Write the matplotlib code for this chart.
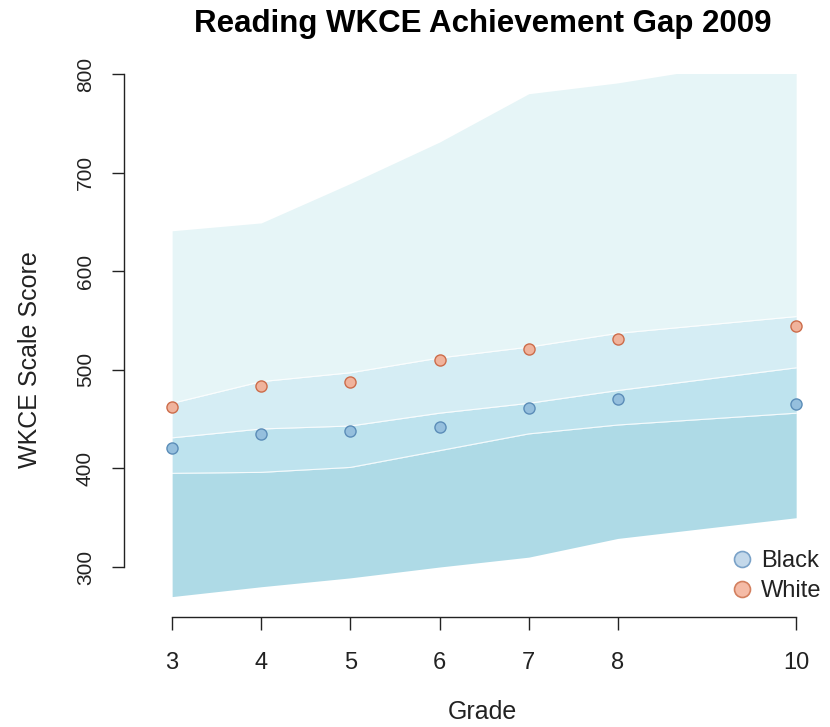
import matplotlib
matplotlib.use("Agg")
import matplotlib.pyplot as plt
from matplotlib.lines import Line2D
import numpy as np

# ---- data ----
grades = [3, 4, 5, 6, 7, 8, 10]
lowest = [270, 280, 289, 300, 310, 329, 350]          # bottom of scale
basic_cut = [395, 396, 401, 418, 435, 444, 456]       # minimal / basic
prof_cut = [431, 440, 443, 456, 466, 479, 502]        # basic / proficient
adv_cut = [466, 488, 497, 512, 523, 537, 554]         # proficient / advanced
highest = [641, 649, 689, 731, 780, 791, 820]         # top of scale
black = [421, 435, 438, 442, 461, 470, 465]
white = [462, 484, 488, 510, 521, 531, 544]
series_labels = ["Black", "White"]
ytick_vals = [300, 400, 500, 600, 700, 800]

plt.rcParams['font.family'] = ['Liberation Sans', 'DejaVu Sans']

W, H = 830, 727
fig = plt.figure(figsize=(W / 100, H / 100), dpi=100)
ax = fig.add_axes([124 / W, 1 - 617 / H, (814 - 124) / W, (617 - 74) / H])

band_colors = ['#AEDAE6', '#BEE3EE', '#D5EDF4', '#E6F5F7']
bounds = [lowest, basic_cut, prof_cut, adv_cut, highest]
for i in range(4):
    ax.fill_between(grades, bounds[i], bounds[i + 1], color=band_colors[i],
                    linewidth=0, zorder=1)
for b in [basic_cut, prof_cut, adv_cut]:
    ax.plot(grades, b, color='white', lw=0.8, alpha=0.85, zorder=2)

ax.plot(grades, black, 'o', ls='none', ms=8, mfc='#95BFDD', mec='#5B8DB8',
        mew=1.0, zorder=3)
ax.plot(grades, white, 'o', ls='none', ms=8, mfc='#F0B39C', mec='#CC6C4A',
        mew=1.0, zorder=3)

ax.set_xlim(2.46, 10.2)
ax.set_ylim(249.3, 800)

for s in ['top', 'right']:
    ax.spines[s].set_visible(False)
ax.spines['left'].set_bounds(300, 800)
ax.spines['bottom'].set_bounds(3, 10)
for s in ['left', 'bottom']:
    ax.spines[s].set_color('#222222')
    ax.spines[s].set_linewidth(1.0)

ax.set_xticks(grades)
ax.set_xticklabels([str(g) for g in grades])
ax.set_yticks(ytick_vals)
ax.set_yticklabels([str(v) for v in ytick_vals], rotation=90, va='center')
ax.tick_params(axis='both', direction='out', length=9, width=1.0,
               color='#222222', labelcolor='#222222')
ax.tick_params(axis='x', pad=16, labelsize=17)
ax.tick_params(axis='y', pad=12, labelsize=15)

ax.set_xlabel('Grade', fontsize=18, color='#222222')
ax.xaxis.set_label_coords(482 / W, 1 - 712 / H, transform=fig.transFigure)
ax.xaxis.label.set_va('center')
ax.set_ylabel('WKCE Scale Score', fontsize=18, color='#222222')
ax.yaxis.set_label_coords(30 / W, 1 - 360 / H, transform=fig.transFigure)
ax.yaxis.label.set_va('center')

fig.text(483 / W, 1 - 32 / H, 'Reading WKCE Achievement Gap 2009', fontsize=22.5,
         fontweight='bold', ha='center', va='baseline', color='black')

handles = [
    Line2D([], [], marker='o', ls='none', ms=11.5, mfc='#C3D8EA', mec='#7AA2C8', mew=1.2),
    Line2D([], [], marker='o', ls='none', ms=11.5, mfc='#F5BBA6', mec='#D3805F', mew=1.2),
]
leg = ax.legend(handles, series_labels, loc='center left', frameon=False,
                bbox_to_anchor=(730 / W, 1 - 576 / H), bbox_transform=fig.transFigure,
                fontsize=17, handletextpad=0.3, labelspacing=0.35,
                borderpad=0, handlelength=1.0, borderaxespad=0)
for t in leg.get_texts():
    t.set_color('#222222')

fig.savefig('out.png', dpi=100)
